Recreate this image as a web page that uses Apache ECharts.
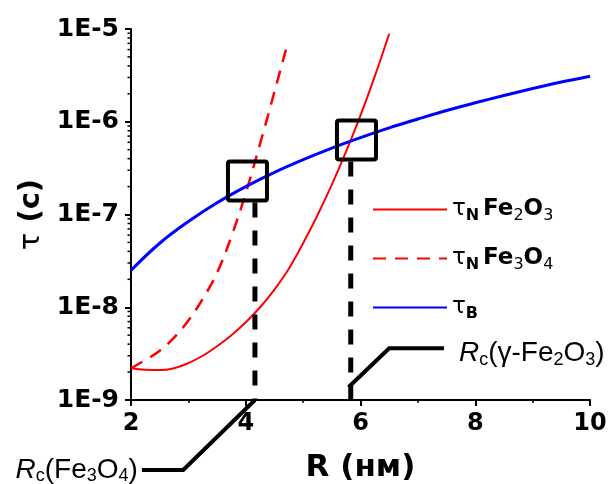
<!DOCTYPE html>
<html><head><meta charset="utf-8">
<script src="https://cdn.jsdelivr.net/npm/echarts@6/dist/echarts.min.js"></script>
<style>html,body{margin:0;padding:0;background:#fff}#c{width:611px;height:484px}</style>
</head><body><div id="c"></div>
<script>
// ---- data ----
const xTicks = [2, 4, 6, 8, 10];
const yTickLabels = ['1E-9', '1E-8', '1E-7', '1E-6', '1E-5'];
const seriesNames = ['τN Fe2O3', 'τN Fe3O4', 'τB'];

const R_B = [2, 2.5, 3, 3.5, 4, 4.5, 5, 5.5, 6, 6.5, 7, 7.5, 8, 8.5, 9, 9.5, 10];
const tauB = [2.5e-8, 4.9e-8, 8.4e-8, 1.34e-7, 2.0e-7, 2.85e-7, 3.9e-7, 5.2e-7, 6.75e-7, 8.6e-7,
              1.07e-6, 1.32e-6, 1.6e-6, 1.92e-6, 2.28e-6, 2.68e-6, 3.1e-6];

const R_Fe2O3 = [2, 2.25, 2.5, 2.75, 3, 3.25, 3.5, 3.75, 4, 4.25, 4.5, 4.75, 5, 5.25, 5.5, 5.75, 6, 6.25, 6.5];
const tauFe2O3 = [2.2e-9, 2.12e-9, 2.1e-9, 2.2e-9, 2.5e-9, 3.0e-9, 3.8e-9, 5.0e-9, 6.9e-9, 1.0e-8,
                  1.55e-8, 2.6e-8, 4.9e-8, 9.8e-8, 2.1e-7, 4.8e-7, 1.17e-6, 3.1e-6, 8.9e-6];

const R_Fe3O4 = [2, 2.25, 2.5, 2.75, 3, 3.25, 3.5, 3.75, 4, 4.25, 4.5, 4.7];
const tauFe3O4 = [2.2e-9, 2.7e-9, 3.4e-9, 4.7e-9, 7.2e-9, 1.23e-8, 2.35e-8, 5.8e-8, 1.7e-7, 5.8e-7, 2.1e-6, 6.0e-6];

// minor ticks of the log axis (2..9 in each decade)
const minorMultipliers = [2, 3, 4, 5, 6, 7, 8, 9];
const minorDecades = [1e-9, 1e-8, 1e-7, 1e-6];

// annotations (data coordinates; y given as log10 exponent)
const boxCenters = [[4.03, 2.3e-7], [5.93, 6.35e-7]];
const dropX = [4.16, 5.83];
const leaderLeft = [[2.19, -9.755], [2.91, -9.755], [4.16, -9.0]];
const leaderRight = [[5.79, -8.863], [6.50, -8.443], [7.455, -8.443]];

// ---- chart ----
const zip = (a, b) => a.map((v, i) => [v, b[i]]);
const minorVals = [];
minorDecades.forEach(d => minorMultipliers.forEach(m => minorVals.push([2, m * d])));

const TICKFONT = 'DejaVu Sans';
const legendRich = {
  'τN Fe2O3': '{t|τ}{s|N} {b|Fe}{n|2}{b|O}{n|3}',
  'τN Fe3O4': '{t|τ}{s|N} {b|Fe}{n|3}{b|O}{n|4}',
  'τB': '{t|τ}{s|B}'
};

const chart = echarts.init(document.getElementById('c'), null, {renderer: 'canvas'});
chart.setOption({
  animation: false,
  backgroundColor: '#fff',
  grid: {left: 131, right: 21, top: 29, bottom: 84, containLabel: false, outerBoundsMode: 'none'},
  legend: {
    orient: 'vertical', left: 367, top: 190, itemWidth: 74, itemHeight: 14, itemGap: 20,
    data: seriesNames,
    itemStyle: {opacity: 0},
    formatter: n => legendRich[n],
    textStyle: {
      color: '#000', fontFamily: TICKFONT,
      rich: {
        t: {fontSize: 23, fontFamily: TICKFONT, color: '#000', lineHeight: 30},
        s: {fontSize: 16, fontWeight: 'bold', fontFamily: TICKFONT, color: '#000', padding: [13, 0, 0, 0], lineHeight: 30},
        b: {fontSize: 23, fontWeight: 'bold', fontFamily: TICKFONT, color: '#000', lineHeight: 30},
        n: {fontSize: 16, fontFamily: TICKFONT, color: '#000', padding: [13, 0, 0, 0], lineHeight: 30}
      }
    }
  },
  xAxis: {
    type: 'value', min: 2, max: 10, interval: 2,
    name: 'R (нм)', nameLocation: 'middle', nameGap: 52,
    nameTextStyle: {fontFamily: TICKFONT, fontWeight: 'bold', fontSize: 31, color: '#000'},
    axisLine: {show: true, lineStyle: {color: '#000', width: 2}},
    axisTick: {show: true, inside: false, length: 6, lineStyle: {color: '#000', width: 2}},
    minorTick: {show: true, splitNumber: 2, length: 3, lineStyle: {color: '#000', width: 1.5}},
    splitLine: {show: false},
    axisLabel: {margin: 12, fontFamily: TICKFONT, fontWeight: 'bold', fontSize: 24, color: '#000',
      formatter: v => (xTicks.indexOf(v) >= 0 ? String(v) : '')}
  },
  yAxis: {
    type: 'log', logBase: 10, min: 1e-9, max: 1e-5,
    name: '{t|τ} (c)', nameLocation: 'middle', nameGap: 84,
    nameTextStyle: {fontFamily: TICKFONT, fontWeight: 'bold', fontSize: 29, color: '#000',
      rich: {t: {fontFamily: TICKFONT, fontWeight: 'normal', fontSize: 29, color: '#000'}}},
    axisLine: {show: true, lineStyle: {color: '#000', width: 2}},
    axisTick: {show: true, inside: false, length: 6, lineStyle: {color: '#000', width: 2}},
    splitLine: {show: false},
    axisLabel: {margin: 12, fontFamily: TICKFONT, fontWeight: 'bold', fontSize: 25, color: '#000',
      formatter: v => yTickLabels[Math.round(Math.log10(v)) + 9]}
  },
  series: [
    {name: seriesNames[0], type: 'line', data: zip(R_Fe2O3, tauFe2O3), smooth: 0.4, showSymbol: false, symbol: 'none',
      lineStyle: {color: '#ff0000', width: 2}, itemStyle: {color: '#ff0000'}, z: 3},
    {name: seriesNames[1], type: 'line', data: zip(R_Fe3O4, tauFe3O4), smooth: 0.4, showSymbol: false, symbol: 'none',
      lineStyle: {color: '#ff0000', width: 2.5, type: [13, 9]}, itemStyle: {color: '#ff0000'}, z: 3},
    {name: seriesNames[2], type: 'line', data: zip(R_B, tauB), smooth: 0.4, showSymbol: false, symbol: 'none',
      lineStyle: {color: '#0000ff', width: 3}, itemStyle: {color: '#0000ff'}, z: 4},
    {name: 'minorY', type: 'custom', data: minorVals, clip: false, silent: true, z: 5,
      renderItem: (params, api) => {
        const p = api.coord([api.value(0), api.value(1)]);
        return {type: 'line', shape: {x1: p[0] - 3.5, y1: p[1], x2: p[0], y2: p[1]},
          style: {stroke: '#000', lineWidth: 1.5}};
      }}
  ]
});

// annotations
const px = (x, y) => chart.convertToPixel({gridIndex: 0}, [x, y]);
const y0 = px(2, 1e-9)[1];
const g = [];
const HALF = 19.5;
boxCenters.forEach((c, i) => {
  const p = px(c[0], c[1]);
  g.push({type: 'rect', z: 100, shape: {x: p[0] - HALF, y: p[1] - HALF, width: 2 * HALF, height: 2 * HALF, r: 2},
    style: {fill: 'none', stroke: '#000', lineWidth: 4}});
  const dx = px(dropX[i], c[1])[0];
  g.push({type: 'line', z: 100, shape: {x1: dx, y1: p[1] + HALF + 2, x2: dx, y2: y0},
    style: {stroke: '#000', lineWidth: 5, lineDash: [15, 13]}});
});
const toPts = arr => arr.map(a => px(a[0], Math.pow(10, a[1])));
const lp = toPts(leaderLeft), rp = toPts(leaderRight);
g.push({type: 'polyline', z: 100, shape: {points: lp}, style: {fill: 'none', stroke: '#000', lineWidth: 4}});
g.push({type: 'polyline', z: 100, shape: {points: rp}, style: {fill: 'none', stroke: '#000', lineWidth: 4}});
const annRich = {
  i: {fontFamily: 'Liberation Sans', fontStyle: 'italic', fontSize: 28, fill: '#000', lineHeight: 34},
  n: {fontFamily: 'Liberation Sans', fontSize: 28, fill: '#000', lineHeight: 34},
  s: {fontFamily: 'Liberation Sans', fontSize: 18, fill: '#000', padding: [13, 0, 0, 0], lineHeight: 34}
};
g.push({type: 'text', z: 100, x: lp[0][0] - 4, y: lp[0][1],
  style: {text: '{i|R}{s|c}{n|(Fe}{s|3}{n|O}{s|4}{n|)}', rich: annRich, align: 'right', verticalAlign: 'middle'}});
g.push({type: 'text', z: 100, x: rp[2][0] + 15, y: rp[2][1] + 5,
  style: {text: '{i|R}{s|c}{n|(γ-Fe}{s|2}{n|O}{s|3}{n|)}', rich: annRich, align: 'left', verticalAlign: 'middle'}});
chart.setOption({graphic: g});
</script>
</body></html>
